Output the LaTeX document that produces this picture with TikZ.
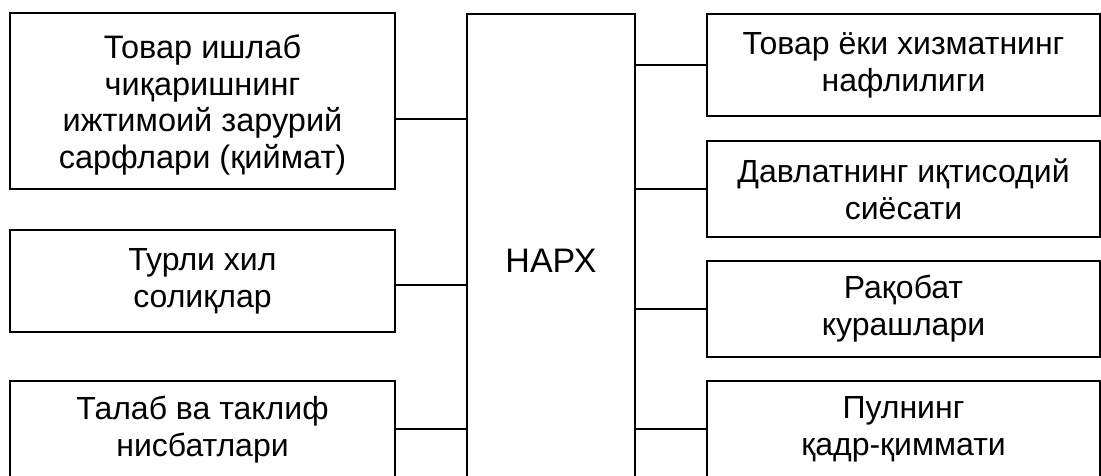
\documentclass[tikz,border=0pt]{standalone}
\usepackage{fontspec}
\setmainfont{Liberation Sans}
\begin{document}
\begin{tikzpicture}[x=1pt,y=-1pt,
  box/.style={draw=black,line width=1.1pt,inner sep=0pt,align=center,
    font=\fontsize{32}{37}\selectfont,fill=white},
  boxtext/.style={inner sep=0pt,align=center,font=\fontsize{32.5}{36.8}\selectfont},
  link/.style={draw=black,line width=1.1pt}]
\useasboundingbox (0,0) rectangle (1101,476);
\fill[white] (0,0) rectangle (1101,476);
\node[box,minimum width=385pt,minimum height=176pt] (l1) at (202.5,101) {};
\node[boxtext] (l1t) at ([yshift=-4pt]l1.center) {Товар ишлаб\\чиқаришнинг\\ижтимоий зарурий\\сарфлари (қиймат)};
\node[box,minimum width=385pt,minimum height=102pt] (l2) at (202.5,281) {Турли хил\\солиқлар};
\node[box,minimum width=385pt,minimum height=98pt] (l3) at (202.5,430) {Талаб ва таклиф\\нисбатлари};
\node[box,minimum width=168pt,minimum height=494pt,font=\fontsize{34}{40}\selectfont] (c) at (551,261) {НАРХ};
\node[box,minimum width=393pt,minimum height=102pt] (r1) at (903.5,65) {Товар ёки хизматнинг\\нафлилиги};
\node[box,minimum width=393pt,minimum height=96pt] (r2) at (903.5,189) {Давлатнинг иқтисодий\\сиёсати};
\node[box,minimum width=393pt,minimum height=96pt] (r3) at (903.5,309) {Рақобат\\курашлари};
\node[box,minimum width=393pt,minimum height=96pt] (r4) at (903.5,429) {Пулнинг\\қадр-қиммати};
\path (l1.east) ++(0,18) coordinate (a1);
\path (l2.east) ++(0,4) coordinate (a2);
\path (l3.east) ++(0,-1) coordinate (a3);
\draw[link] (a1) -- (a1 -| c.west);
\draw[link] (a2) -- (a2 -| c.west);
\draw[link] (a3) -- (a3 -| c.west);
\draw[link] (r1.west) -- (r1.west -| c.east);
\draw[link] (r2.west) -- (r2.west -| c.east);
\draw[link] (r3.west) -- (r3.west -| c.east);
\draw[link] (r4.west) -- (r4.west -| c.east);
\end{tikzpicture}
\end{document}
